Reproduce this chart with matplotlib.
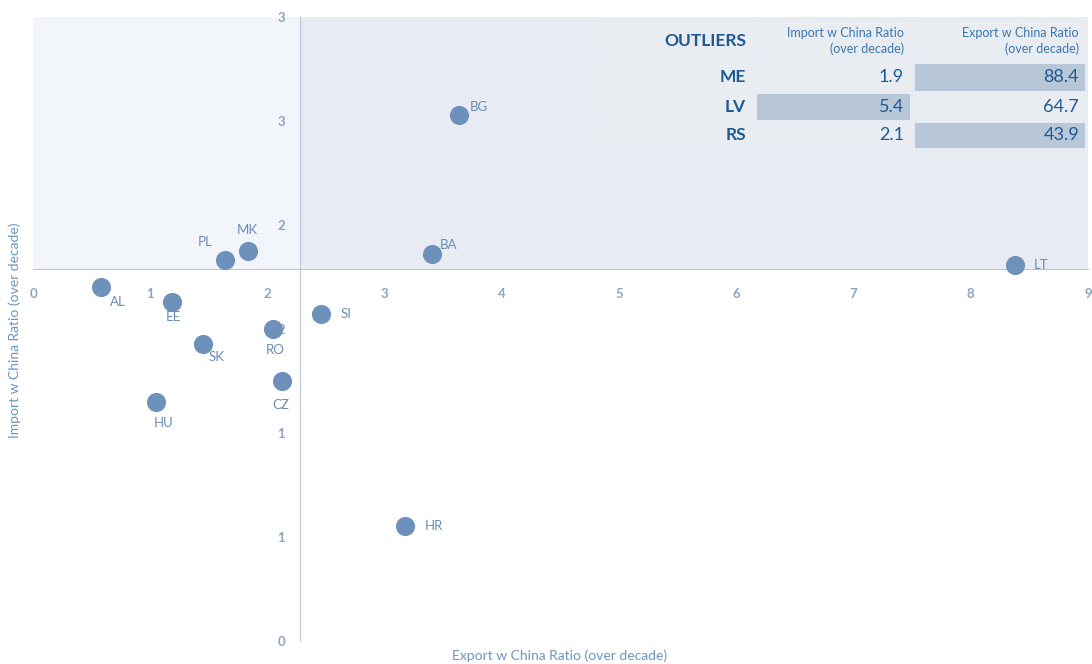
import matplotlib.pyplot as plt
from matplotlib.patches import Rectangle

plt.rcParams['font.family'] = ['Lato', 'DejaVu Sans']

# Country points: export ratio (x) vs import ratio (y)
countries = ["AL", "EE", "PL", "MK", "SK", "HU", "RO", "CZ", "SI", "BG", "BA", "HR", "LT"]
export_ratio = [0.58, 1.19, 1.64, 1.83, 1.45, 1.05, 2.05, 2.12, 2.46, 3.63, 3.40, 3.17, 8.38]
import_ratio = [1.70, 1.63, 1.83, 1.875, 1.43, 1.15, 1.50, 1.25, 1.57, 2.53, 1.86, 0.553, 1.81]

# label offsets in pixels
label_dx = [17, 1, -20, 0, 14, 8, 2, -1, 25, 20, 17, 29, 26]
label_dy = [-15, -15, 18, 21, -13, -21, -21, -24, 0, 8, 9, 0, 0]

# averages where the axes cross
x_cross = 2.28
y_cross = 1.79

yticks = [0, 0.5, 1, 1.5, 2, 2.5, 3]
ytick_labels = ["0", "1", "1", "2", "2", "3", "3"]
xticks = list(range(0, 10))

# outliers table
outliers = ["ME", "LV", "RS"]
out_import = [1.9, 5.4, 2.1]
out_export = [88.4, 64.7, 43.9]
hl_import = [False, True, False]
hl_export = [True, False, True]

W, H = 1092, 664
fig = plt.figure(figsize=(W / 100, H / 100), dpi=100)
ax = fig.add_axes([33 / W, 23 / H, 1055 / W, 624 / H])
ax.set_xlim(0, 9)
ax.set_ylim(0, 3)

# shaded upper quadrants
ax.add_patch(Rectangle((0, y_cross), x_cross, 3 - y_cross, color='#f2f5f9', zorder=0, lw=0))
ax.add_patch(Rectangle((x_cross, y_cross), 9 - x_cross, 3 - y_cross, color='#e8ecf2', zorder=0, lw=0))

for s in ['top', 'right']:
    ax.spines[s].set_visible(False)
ax.spines['left'].set_position(('data', x_cross))
ax.spines['bottom'].set_position(('data', y_cross))
ax.spines['left'].set_color('#b9c7d9')
ax.spines['bottom'].set_color('#b9c7d9')
ax.set_xticks(xticks)
ax.set_yticks(yticks)
ax.set_yticklabels(ytick_labels)
ax.tick_params(length=0, colors='#8aa4c6', labelsize=9.5)
ax.tick_params(axis='y', pad=11)
ax.tick_params(axis='x', pad=14)
for t in ax.get_xticklabels() + ax.get_yticklabels():
    t.set_fontweight('bold')

ax.scatter(export_ratio, import_ratio, s=190, color='#6d91bb', zorder=3, lw=0)
for c, x, y, dx, dy in zip(countries, export_ratio, import_ratio, label_dx, label_dy):
    ax.annotate(c, (x, y), xytext=(dx, dy), textcoords='offset pixels',
                ha='center', va='center', fontsize=9.5, color='#6b8cb5', zorder=4)

fig.text(15 / W, 1 - 330 / H, "Import w China Ratio (over decade)", rotation=90,
         ha='center', va='center', fontsize=10, color='#6b95c2')
fig.text(560 / W, 1 - 656 / H, "Export w China Ratio (over decade)",
         ha='center', va='center', fontsize=10, color='#6b95c2')

# table overlay in pixel coordinates
tab = fig.add_axes([0, 0, 1, 1])
tab.set_xlim(0, W)
tab.set_ylim(H, 0)
tab.axis('off')

cols = [(600, 754), (757, 910), (915, 1085)]
rows = [(22, 60), (64, 91), (94, 120), (123, 148)]
base = '#e9edf2'
hl = '#b8c7d8'

for ci, (x0, x1) in enumerate(cols):
    for ri, (y0, y1) in enumerate(rows):
        color = base
        if ri > 0 and ci == 1 and hl_import[ri - 1]:
            color = hl
        if ri > 0 and ci == 2 and hl_export[ri - 1]:
            color = hl
        tab.add_patch(Rectangle((x0, y0), x1 - x0, y1 - y0, color=color, lw=0))

dark = '#1d5a93'
tab.text(cols[0][1] - 8, (rows[0][0] + rows[0][1]) / 2, "OUTLIERS", ha='right', va='center',
         fontsize=12.5, fontweight='bold', color=dark)
tab.text(cols[1][1] - 6, (rows[0][0] + rows[0][1]) / 2, "Import w China Ratio\n(over decade)",
         ha='right', va='center', fontsize=9, color='#3a76b0', linespacing=1.3)
tab.text(cols[2][1] - 6, (rows[0][0] + rows[0][1]) / 2, "Export w China Ratio\n(over decade)",
         ha='right', va='center', fontsize=9, color='#3a76b0', linespacing=1.3)

for i, name in enumerate(outliers):
    ym = (rows[i + 1][0] + rows[i + 1][1]) / 2
    tab.text(cols[0][1] - 8, ym, name, ha='right', va='center', fontsize=12.5,
             fontweight='bold', color=dark)
    tab.text(cols[1][1] - 6, ym, f"{out_import[i]:.1f}", ha='right', va='center',
             fontsize=13, color=dark)
    tab.text(cols[2][1] - 6, ym, f"{out_export[i]:.1f}", ha='right', va='center',
             fontsize=13, color=dark)

fig.savefig('out.png', dpi=100, facecolor='white')
